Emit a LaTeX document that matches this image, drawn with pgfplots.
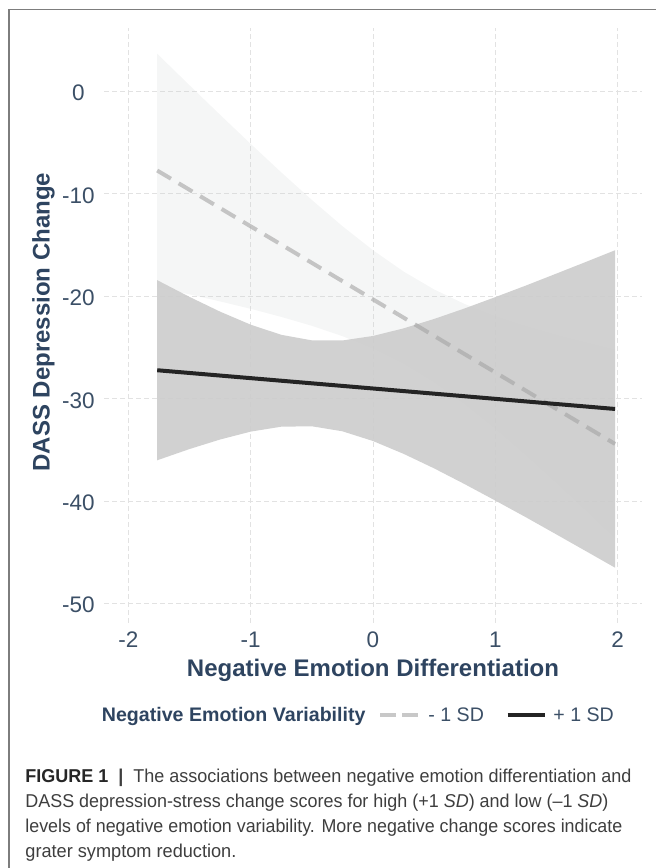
\documentclass[border=0pt]{standalone}
\usepackage{fontspec}
\setmainfont{Liberation Sans}
\usepackage{graphicx}
\usepackage{pgfplots}
\pgfplotsset{compat=1.18}
\definecolor{titlecol}{RGB}{46,68,96}
\definecolor{tickcol}{RGB}{59,79,102}
\definecolor{lightrib}{RGB}{205,210,210}
\definecolor{darkrib}{RGB}{204,204,204}
\definecolor{dashcol}{RGB}{165,165,165}
\definecolor{dashkey}{RGB}{200,200,200}
\definecolor{solidcol}{RGB}{36,36,36}
\definecolor{gridcol}{RGB}{226,226,226}
\definecolor{framecol}{RGB}{125,125,125}
\definecolor{captext}{RGB}{62,62,62}
\begin{document}
\begin{tikzpicture}
\useasboundingbox (0,0) rectangle (327.5pt,-434pt);
\begin{axis}[
  at={(52pt,-14pt)}, anchor=north west,
  scale only axis, width=269pt, height=297.5pt,
  xmin=-2.2, xmax=2.2, ymin=-51.9, ymax=6.2,
  axis line style={draw=none},
  major tick length=0pt,
  xtick={-2,-1,0,1,2}, xticklabels={-2,-1,0,1,2},
  ytick={-50,-40,-30,-20,-10,0}, yticklabels={-50,-40,-30,-20,-10,0},
  grid=major,
  major grid style={gridcol, line width=0.5pt, dash pattern=on 2.5pt off 1.5pt},
  xticklabel style={font=\fontsize{11.25}{13}\selectfont, text=tickcol, anchor=base, yshift=-12pt, inner sep=0pt},
  yticklabel style={font=\fontsize{11.25}{13}\selectfont, text=tickcol, anchor=center, xshift=-12.75pt, yshift=-0.8pt, inner sep=0pt},
]
% -1 SD confidence ribbon (upper edge forward, lower edge backward)
\addplot[draw=none, fill=lightrib, fill opacity=0.2] coordinates {
 (-1.765,3.69) (-1.5,0.60) (-1.25,-2.28) (-1.0,-5.12) (-0.75,-7.90) (-0.5,-10.59)
 (-0.25,-13.15) (0,-15.50) (0.25,-17.58) (0.5,-19.33) (0.75,-20.75) (1.0,-21.92)
 (1.25,-22.89) (1.5,-23.75) (1.75,-24.52) (1.98,-25.18)
 (1.98,-43.66) (1.75,-41.04) (1.5,-38.24) (1.25,-35.53) (1.0,-32.94) (0.75,-30.54)
 (0.5,-28.40) (0.25,-26.58) (0,-25.10) (-0.25,-23.89) (-0.5,-22.88) (-0.75,-22.01)
 (-1.0,-21.22) (-1.25,-20.50) (-1.5,-19.81) (-1.765,-19.12)
};
% +1 SD confidence ribbon
\addplot[draw=none, fill=darkrib, fill opacity=0.9] coordinates {
 (-1.765,-18.42) (-1.5,-20.06) (-1.25,-21.50) (-1.0,-22.77) (-0.75,-23.76) (-0.5,-24.30)
 (-0.25,-24.31) (0,-23.87) (0.25,-23.13) (0.5,-22.21) (0.75,-21.18) (1.0,-20.08)
 (1.25,-18.95) (1.5,-17.78) (1.75,-16.60) (1.98,-15.50)
 (1.98,-46.50) (1.75,-44.94) (1.5,-43.25) (1.25,-41.57) (1.0,-39.94) (0.75,-38.34)
 (0.5,-36.80) (0.25,-35.38) (0,-34.13) (-0.25,-33.18) (-0.5,-32.69) (-0.75,-32.73)
 (-1.0,-33.21) (-1.25,-33.98) (-1.5,-34.91) (-1.765,-36.01)
};
% -1 SD line
\addplot[dashcol, draw opacity=0.61, line width=2pt, dash pattern=on 8pt off 4.5pt] coordinates {(-1.765,-7.715) (1.98,-34.417)};
% +1 SD line
\addplot[solidcol, line width=2pt] coordinates {(-1.765,-27.217) (1.98,-31.0)};
\end{axis}
\begin{scope}[x=0.5pt, y=-0.5pt]
  % frame
  \draw[framecol, line width=0.75pt] (9,900) -- (9,9.3) -- (700,9.3);
  % axis titles
  \node[anchor=base, inner sep=0pt, text=titlecol, font=\bfseries\fontsize{12}{14}\selectfont] at (373,676) {Negative Emotion Differentiation};
  \node[anchor=base, rotate=90, inner sep=0pt, text=titlecol, font=\bfseries\fontsize{12}{14}\selectfont] at (49.5,322) {DASS Depression Change};
  % legend
  \node[anchor=base west, inner sep=0pt, text=titlecol, font=\bfseries\fontsize{9.8}{12}\selectfont] at (101.5,721.7) {Negative Emotion Variability};
  \draw[dashkey, line width=2pt, dash pattern=on 8pt off 3pt] (380,715) -- (418,715);
  \node[anchor=base west, inner sep=0pt, text=tickcol, font=\fontsize{9.8}{12}\selectfont] at (428,721.7) {- 1 SD};
  \draw[solidcol, line width=2pt] (507.5,715) -- (545,715);
  \node[anchor=base west, inner sep=0pt, text=tickcol, font=\fontsize{9.8}{12}\selectfont] at (553,721.7) {+ 1 SD};
  % caption
  \node[anchor=base west, inner sep=0pt, text=captext, font=\fontsize{9.3}{11}\selectfont] at (25,782)
    {\resizebox{303pt}{\height}{\textcolor{black!85}{\textbf{FIGURE 1}}\ \ \textbf{|}\ \ The associations between negative emotion differentiation and}};
  \node[anchor=base west, inner sep=0pt, text=captext, font=\fontsize{9.3}{11}\selectfont] at (25,807)
    {\resizebox{291.5pt}{\height}{DASS depression-stress change scores for high (+1 \textit{SD}) and low (–1 \textit{SD})}};
  \node[anchor=base west, inner sep=0pt, text=captext, font=\fontsize{9.3}{11}\selectfont] at (25,832)
    {\resizebox{298.5pt}{\height}{levels of negative emotion variability. More negative change scores indicate}};
  \node[anchor=base west, inner sep=0pt, text=captext, font=\fontsize{9.3}{11}\selectfont] at (25,857)
    {\resizebox{105.5pt}{\height}{grater symptom reduction.}};
\end{scope}
\end{tikzpicture}
\end{document}
